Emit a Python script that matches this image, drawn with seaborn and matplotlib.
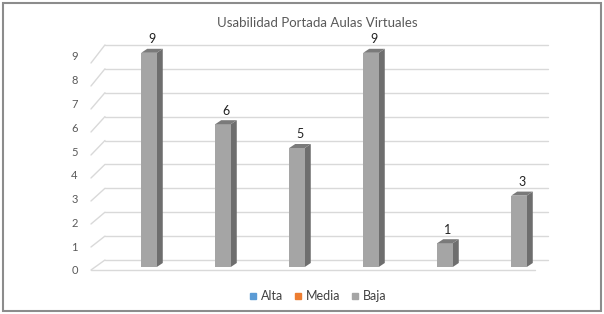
import numpy as np
import pandas as pd
import matplotlib
matplotlib.use('Agg')
import matplotlib.pyplot as plt
import seaborn as sns
from matplotlib.patches import Polygon, Rectangle
from matplotlib.lines import Line2D

# datos
grupos = ['1', '2', '3', '4', '5', '6']
baja = [9, 6, 5, 9, 1, 3]
niveles = ['Alta', 'Media', 'Baja']
colores = ['#5B9BD5', '#ED7D31', '#A5A5A5']
yticks = list(range(0, 10))
titulo = 'Usabilidad Portada Aulas Virtuales'

df = pd.DataFrame({'grupo': grupos, 'valor': baja, 'nivel': 'Baja'})

sns.set_style('white')
plt.rcParams['font.family'] = ['Lato', 'DejaVu Sans']

W, H = 604, 314
fig = plt.figure(figsize=(W / 100, H / 100), dpi=100)
# escala: 74 px por categoria, 23.8 px por unidad, base en y=267 px
px_x, px_y = 74.0, 23.8
xlo, xhi = -0.85, 5.45
ylo, yhi = -0.3, 10
left = 149 + xlo * px_x
bottom = (H - 267) + ylo * px_y
ax = fig.add_axes([left / W, bottom / H, (xhi - xlo) * px_x / W, (yhi - ylo) * px_y / H])

sns.barplot(data=df, x='grupo', y='valor', color=colores[2], width=0.21,
            saturation=1, linewidth=0, ax=ax, zorder=3)
ax.set_xlim(xlo, xhi)
ax.set_ylim(ylo, yhi)

# pared y piso "3D" (con perspectiva)
gcol = '#d9d9d9'
fx0, fx1 = -0.784, 5.22
bx0, bx1 = -0.595, 5.39
for v in yticks:
    yf = (23.0 * v - 3) / px_y
    yb = (23.9 * v + 7) / px_y
    ax.plot([bx0, bx1], [yb, yb], color=gcol, lw=1, zorder=1)
    ax.plot([fx0, bx0], [yf, yb], color=gcol, lw=1, zorder=1)
ax.plot([fx0, fx1], [-3 / px_y, -3 / px_y], color=gcol, lw=1, zorder=1)

# caras laterales y superiores
bdx, bdy = 6 / px_x, 4 / px_y
for p in list(ax.patches):
    x0 = p.get_x()
    w = p.get_width()
    h = p.get_height()
    x1 = x0 + w
    side = Polygon([(x1, 0), (x1 + bdx, bdy), (x1 + bdx, h + bdy), (x1, h)],
                   closed=True, facecolor='#6e6e6e', edgecolor='none', zorder=2.9)
    top = Polygon([(x0, h), (x0 + bdx, h + bdy), (x1 + bdx, h + bdy), (x1, h)],
                  closed=True, facecolor='#7a7a7a', edgecolor='none', zorder=3.1)
    ax.add_patch(side)
    ax.add_patch(top)
    ax.text(x0 + w / 2 + bdx / 2, h + bdy + 0.15, str(int(h)), ha='center', va='bottom',
            fontsize=9, color='#222222')

ax.set_yticks([(v * px_y - 3) / px_y for v in yticks])
ax.set_yticklabels([str(v) for v in yticks], fontsize=8, color='#595959')
ax.tick_params(axis='y', length=0, pad=6)
ax.set_xticks([])
ax.set_xlabel('')
ax.set_ylabel('')
for s in ax.spines.values():
    s.set_visible(False)
ax.patch.set_alpha(0)

fig.text(317 / W, 1 - 23 / H, titulo, ha='center', va='center', fontsize=9.5,
         color='#595959')

handles = [Line2D([0], [0], marker='s', linestyle='', markersize=5, markerfacecolor=c,
                  markeredgecolor=c) for c in colores]
fig.legend(handles, niveles, loc='center', bbox_to_anchor=(318 / W, 1 - 296 / H), ncol=3,
           frameon=False, fontsize=9, handlelength=0.6, handletextpad=0.3, columnspacing=0.9,
           labelcolor='#404040')

fig.patches.append(Rectangle((3 / W, 3 / H), 1 - 6 / W, 1 - 6 / H, transform=fig.transFigure,
                             fill=False, edgecolor='#8c8c8c', lw=1.5))

fig.savefig('out.png', dpi=100)
